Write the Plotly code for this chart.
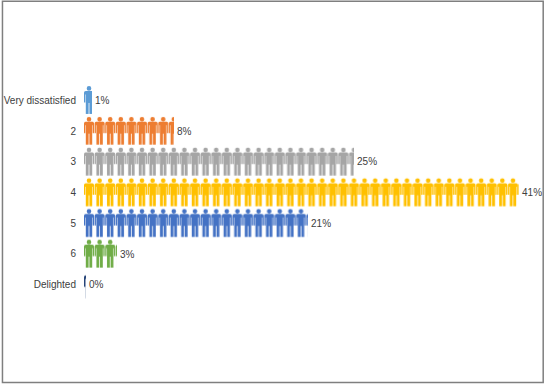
import plotly.graph_objects as go

categories = ["Very dissatisfied", "2", "3", "4", "5", "6", "Delighted"]
values = [0.8, 8.45, 25.45, 41, 21.1, 3.1, 0.2]
labels = ["1%", "8%", "25%", "41%", "21%", "3%", "0%"]
colors = ["#5B9BD5", "#ED7D31", "#A5A5A5", "#FFC000", "#4472C4", "#70AD47", "#264478"]

PX_PER_UNIT = 10.6
ROW = 30.74
N_COL = 29
TILE = N_COL * PX_PER_UNIT


def person(x, y):
    def p(a, b):
        return f"{x + a:.2f} {y + b:.2f}"
    head = (f"M{p(2.5, 2.4)}A2.3 2.3 0 1 1 {p(7.1, 2.4)}A2.3 2.3 0 1 1 {p(2.5, 2.4)}Z")
    body = ("M" + "L".join(p(a, b) for a, b in [
        (1.5, 5), (8.1, 5), (9.4, 5.5), (9.8, 6.8), (9.8, 16.5), (8.5, 16.5), (8.5, 8.5), (8.0, 8.5),
        (8.0, 28), (5.2, 28), (5.2, 17), (4.4, 17), (4.4, 28), (1.6, 28), (1.6, 8.5), (1.1, 8.5),
        (1.1, 16.5), (-0.2, 16.5), (-0.2, 6.8), (0.2, 5.5)]) + "Z")
    return head + body


path = "".join(person(0.2 + c * PX_PER_UNIT, 1 + r * ROW) for r in range(len(categories)) for c in range(N_COL))

fig = go.Figure()
for i, c in enumerate(categories):
    fig.add_bar(y=[c], x=[values[i]], orientation="h", text=[labels[i]], textposition="outside",
                textfont=dict(size=10, color="#404040"), cliponaxis=False,
                marker=dict(color=colors[i], line_width=0,
                            pattern=dict(path=path, size=TILE, fgcolor=colors[i], bgcolor="white",
                                         fillmode="replace", solidity=1)))
fig.add_shape(type="rect", xref="paper", yref="paper", layer="above",
              x0=(2.5 - 84) / 455.8, x1=(543 - 84) / 455.8,
              y0=(300 - 382.5) / 215.18, y1=(300 - 1) / 215.18,
              line=dict(color="#7F7F7F", width=1.5))
fig.update_layout(
    width=546, height=385, margin=dict(l=84, r=6.2, t=85, b=84.82, autoexpand=False),
    paper_bgcolor="white", plot_bgcolor="white", bargap=0, barmode="overlay", showlegend=False,
    font=dict(family="Liberation Sans", size=10, color="#404040"),
    xaxis=dict(visible=False, range=[0, 43]),
    yaxis=dict(autorange="reversed", showgrid=False, zeroline=False, ticks="outside", ticklen=5,
               tickcolor="rgba(0,0,0,0)", automargin=False, categoryorder="array", categoryarray=categories),
)
fig.write_html("out.html", post_script="document.body.style.margin='0';", config=dict(displayModeBar=False))
